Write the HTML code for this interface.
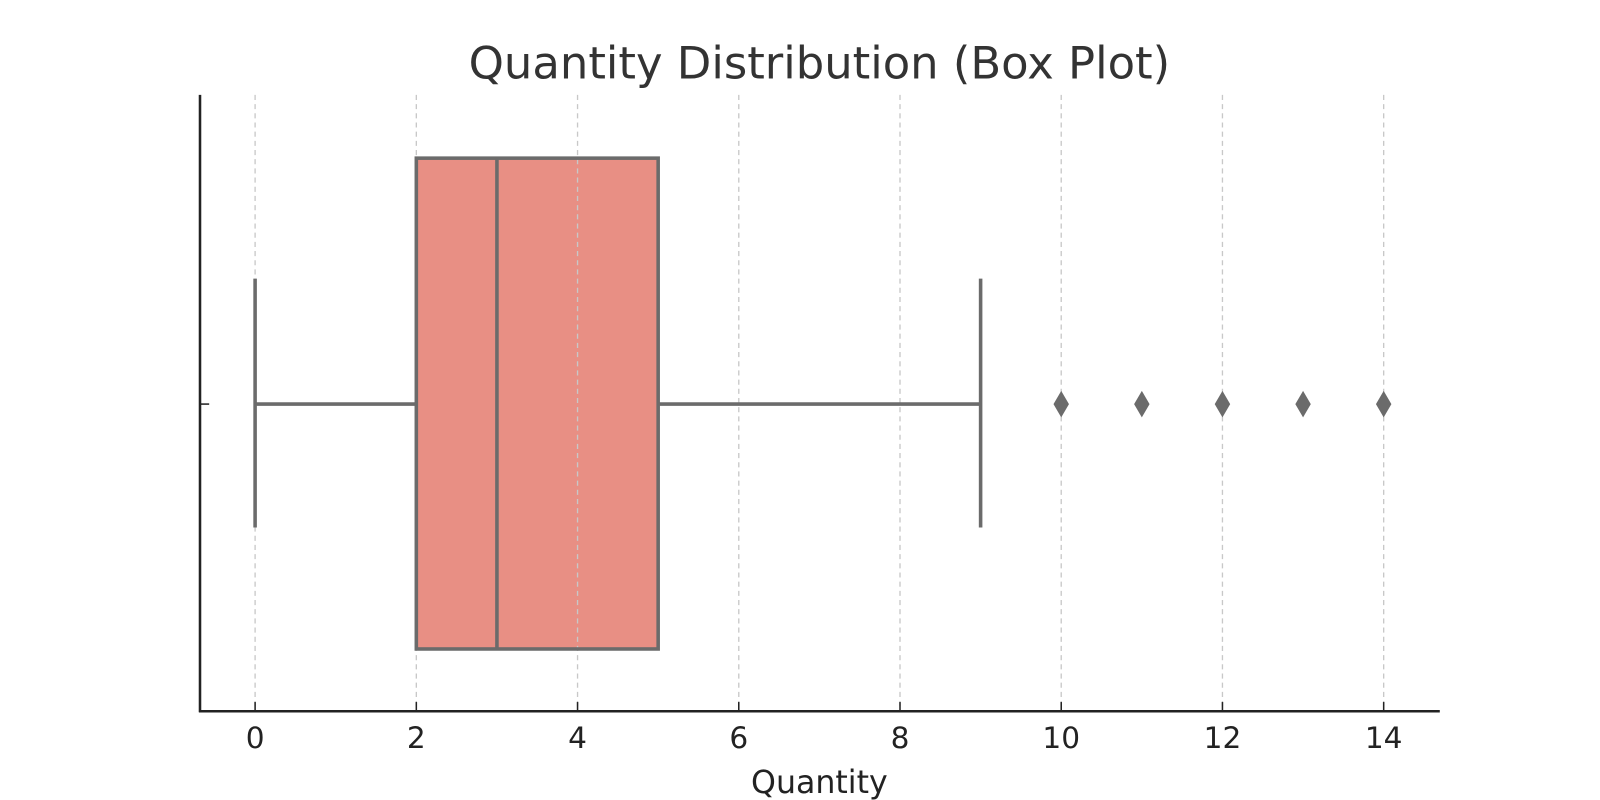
<!DOCTYPE html>
<html>
<head>
<meta charset="utf-8">
<style>
html,body{margin:0;padding:0;background:#fff;}
svg{display:block;font-family:"DejaVu Sans","Liberation Sans",sans-serif;}
</style>
</head>
<body>
<svg id="chart" width="1600" height="800" viewBox="0 0 1568 784">
  <text x="803" y="77" text-anchor="middle" font-size="44" fill="#333">Quantity Distribution (Box Plot)</text>
  <g id="plot"></g>
  <text x="803" y="777" text-anchor="middle" font-size="31" fill="#222">Quantity</text>
</svg>
<script>
const ticks = [0, 2, 4, 6, 8, 10, 12, 14];
const tickLabels = ["0", "2", "4", "6", "8", "10", "12", "14"];
const whiskerLow = [0];
const q1 = [2];
const median = [3];
const q3 = [5];
const whiskerHigh = [9];
const outliers = [10, 11, 12, 13, 14];

const NS = "http://www.w3.org/2000/svg";
const plotG = document.getElementById("plot");
const X0 = 250, X1 = 1356, V0 = 0, V1 = 14;
const xs = v => X0 + (v - V0) / (V1 - V0) * (X1 - X0);
const plotTop = 93, plotBottom = 697, plotLeft = 196, plotRight = 1411;
const cy = 396, boxTop = 155, boxBot = 636, capTop = 273, capBot = 517;
const edge = "#6b6b6b";

function mk(tag, attrs) {
  const e = document.createElementNS(NS, tag);
  for (const k in attrs) e.setAttribute(k, attrs[k]);
  plotG.appendChild(e);
  return e;
}

let e = mk("rect", {x: xs(q1[0]), y: boxTop, width: xs(q3[0]) - xs(q1[0]), height: boxBot - boxTop, fill: "#e88f84", stroke: "none"});



ticks.forEach((t, i) => {
  const x = xs(t);
  let l = mk("line", {x1: x, x2: x, y1: plotTop, y2: plotBottom, stroke: "#c8c8c8", "stroke-width": 1.3, "stroke-dasharray": "5,4"});
  
  
  let tk = mk("line", {x1: x, x2: x, y1: plotBottom - 9, y2: plotBottom, stroke: "#222", "stroke-width": 1.5});
  
  
  let tx = mk("text", {x: x, y: 733, "text-anchor": "middle", "font-size": 29, fill: "#222"});
  tx.textContent = tickLabels[i];
  
  
});

e = mk("rect", {x: xs(q1[0]), y: boxTop, width: xs(q3[0]) - xs(q1[0]), height: boxBot - boxTop, fill: "none", stroke: edge, "stroke-width": 3.5});


e = mk("line", {x1: xs(median[0]), x2: xs(median[0]), y1: boxTop, y2: boxBot, stroke: edge, "stroke-width": 3.5});


e = mk("line", {x1: xs(whiskerLow[0]), x2: xs(q1[0]), y1: cy, y2: cy, stroke: edge, "stroke-width": 3.5});


e = mk("line", {x1: xs(q3[0]), x2: xs(whiskerHigh[0]), y1: cy, y2: cy, stroke: edge, "stroke-width": 3.5});


e = mk("line", {x1: xs(whiskerLow[0]), x2: xs(whiskerLow[0]), y1: capTop, y2: capBot, stroke: edge, "stroke-width": 3.5});


e = mk("line", {x1: xs(whiskerHigh[0]), x2: xs(whiskerHigh[0]), y1: capTop, y2: capBot, stroke: edge, "stroke-width": 3.5});



outliers.forEach(v => {
  const x = xs(v);
  let d = mk("polygon", {points: `${x},${cy-12} ${x+7},${cy} ${x},${cy+12} ${x-7},${cy}`, fill: edge, stroke: edge, "stroke-width": 1});
  
  
});

e = mk("line", {x1: plotLeft, x2: plotLeft, y1: plotTop, y2: plotBottom + 1, stroke: "#222", "stroke-width": 2.5});


e = mk("line", {x1: plotLeft - 1, x2: plotRight, y1: plotBottom, y2: plotBottom, stroke: "#222", "stroke-width": 2.5});


e = mk("line", {x1: plotLeft, x2: plotLeft + 9, y1: cy, y2: cy, stroke: "#222", "stroke-width": 1.5});


</script>
</body>
</html>
